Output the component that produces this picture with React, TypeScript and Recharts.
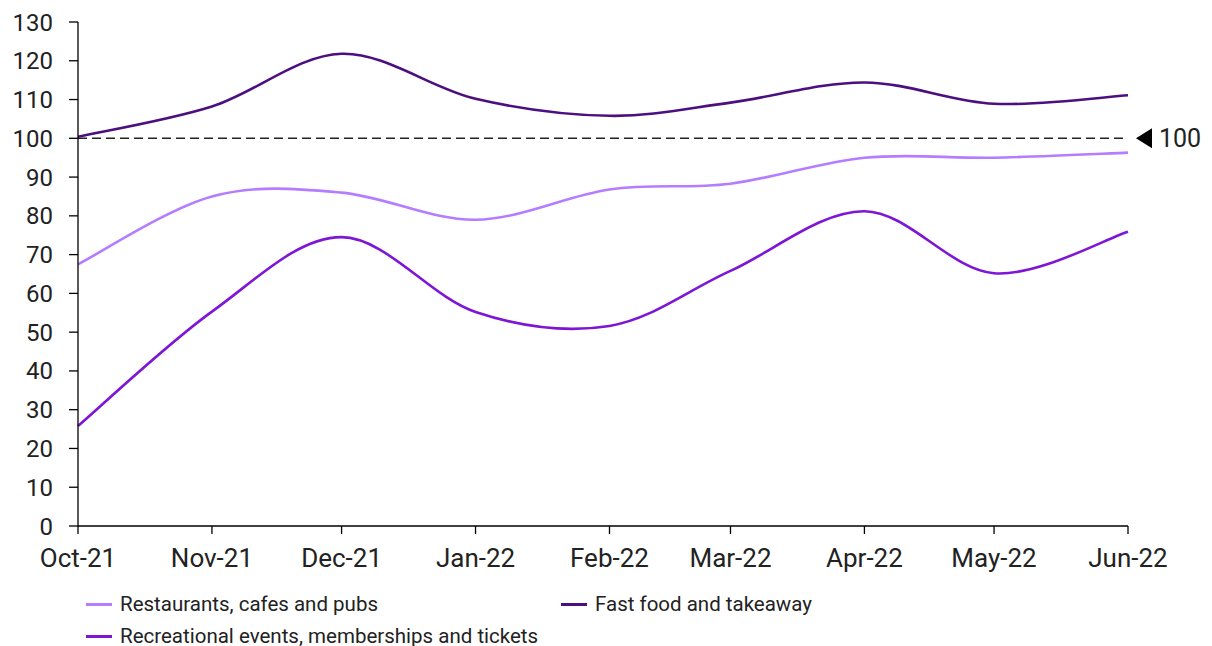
import React from "react";
import {
  LineChart,
  Line,
  XAxis,
  YAxis,
  ReferenceLine,
  Legend,
} from "recharts";

// Days since 1 Oct 2021 for each monthly reading, so month spacing follows the calendar
const monthDays = [0, 31, 61, 92, 123, 151, 182, 212, 243];
const monthLabels = [
  "Oct-21",
  "Nov-21",
  "Dec-21",
  "Jan-22",
  "Feb-22",
  "Mar-22",
  "Apr-22",
  "May-22",
  "Jun-22",
];

const restaurants = [67.5, 85, 86, 79, 86.8, 88.3, 95, 95, 96.3];
const fastFood = [100.4, 108.2, 121.8, 110.2, 105.8, 109.2, 114.4, 108.9, 111.1];
const recreational = [25.8, 55.3, 74.5, 55.2, 51.6, 65.8, 81.2, 65.2, 75.9];

const yTicks = [0, 10, 20, 30, 40, 50, 60, 70, 80, 90, 100, 110, 120, 130];

const series = [
  { key: "restaurants", name: "Restaurants, cafes and pubs", color: "#b47dff" },
  { key: "fastFood", name: "Fast food and takeaway", color: "#4b0f80" },
  {
    key: "recreational",
    name: "Recreational events, memberships and tickets",
    color: "#7d16d5",
  },
];

const chartData = monthDays.map((day, i) => ({
  day,
  restaurants: restaurants[i],
  fastFood: fastFood[i],
  recreational: recreational[i],
}));

const FONT = "Roboto, 'Liberation Sans', sans-serif";
const TEXT = "#222";

// Smoothed line through every point (Catmull-Rom style bezier segments)
const smoothCurve = (context: any) => {
  let pts: number[][] = [];
  return {
    areaStart() {},
    areaEnd() {},
    lineStart() {
      pts = [];
    },
    point(x: number, y: number) {
      pts.push([+x, +y]);
    },
    lineEnd() {
      if (!pts.length) return;
      context.moveTo(pts[0][0], pts[0][1]);
      for (let i = 0; i < pts.length - 1; i++) {
        const p0 = pts[i - 1] || pts[i];
        const p1 = pts[i];
        const p2 = pts[i + 1];
        const p3 = pts[i + 2] || p2;
        context.bezierCurveTo(
          p1[0] + (p2[0] - p0[0]) / 6,
          p1[1] + (p2[1] - p0[1]) / 6,
          p2[0] - (p3[0] - p1[0]) / 6,
          p2[1] - (p3[1] - p1[1]) / 6,
          p2[0],
          p2[1]
        );
      }
    },
  };
};

const BaselineLabel = (props: any) => {
  const { viewBox } = props;
  const x = viewBox.x + viewBox.width;
  const y = viewBox.y;
  return (
    <g>
      <polygon
        points={`${x + 8},${y} ${x + 24},${y - 10} ${x + 24},${y + 10}`}
        fill="#000"
      />
      <text
        x={x + 31}
        y={y}
        dy="0.36em"
        fontSize={25}
        fontFamily={FONT}
        fill={TEXT}
      >
        100
      </text>
    </g>
  );
};

const LegendContent = () => {
  const item = (s: (typeof series)[number], left: number, top: number) => (
    <div
      key={s.key}
      style={{
        position: "absolute",
        left,
        top,
        height: 24,
        display: "flex",
        alignItems: "center",
        whiteSpace: "nowrap",
      }}
    >
      <span
        style={{
          display: "inline-block",
          width: 26,
          height: 3,
          background: s.color,
          marginRight: 8,
        }}
      />
      <span
        style={{ fontSize: 20.5, lineHeight: "24px", color: TEXT, fontFamily: FONT }}
      >
        {s.name}
      </span>
    </div>
  );
  return (
    <div style={{ position: "relative", width: 1204, height: 72 }}>
      {item(series[0], 70, 18)}
      {item(series[1], 545, 18)}
      {item(series[2], 70, 50)}
    </div>
  );
};

const App: React.FC = () => {
  return (
    <div style={{ fontFamily: FONT }}>
      <LineChart
        width={1204}
        height={638}
        data={chartData}
        margin={{ top: 14, right: 84, bottom: 0, left: 8 }}
      >
        <XAxis
          dataKey="day"
          type="number"
          domain={[0, 243]}
          ticks={monthDays}
          tickFormatter={(d: number) => monthLabels[monthDays.indexOf(d)]}
          stroke="#000"
          strokeWidth={1.3}
          tickSize={8}
          tickMargin={15}
          height={48}
          interval={0}
          tick={{ fill: TEXT, fontSize: 26, fontFamily: FONT }}
        />
        <YAxis
          domain={[0, 130]}
          ticks={yTicks}
          width={62}
          stroke="#000"
          strokeWidth={1.3}
          tickSize={9}
          tickMargin={16}
          interval={0}
          tick={{ fill: TEXT, fontSize: 24, fontFamily: FONT }}
        />
        <ReferenceLine
          y={100}
          stroke="#222"
          strokeWidth={1.4}
          strokeDasharray="9 5"
          label={<BaselineLabel />}
        />
        <Legend verticalAlign="bottom" content={<LegendContent />} />
        {series.map((s) => (
          <Line
            key={s.key}
            dataKey={s.key}
            name={s.name}
            type={smoothCurve as any}
            stroke={s.color}
            strokeWidth={2.6}
            dot={false}
            activeDot={false}
            isAnimationActive={false}
          />
        ))}
      </LineChart>
    </div>
  );
};

export default App;
